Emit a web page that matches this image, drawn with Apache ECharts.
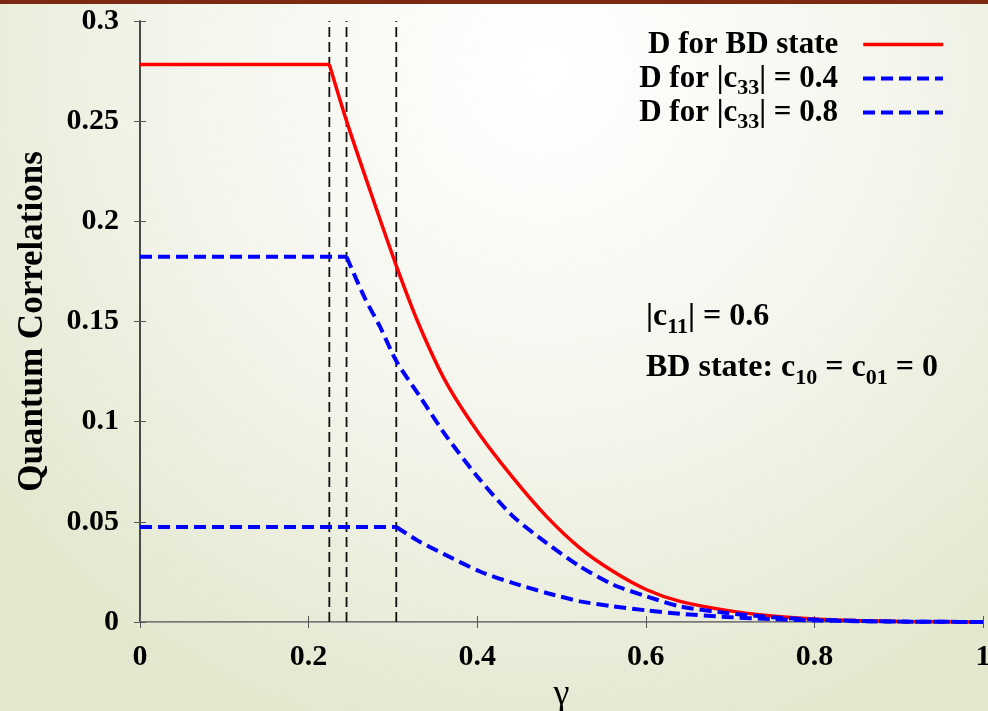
<!DOCTYPE html>
<html>
<head>
<meta charset="utf-8">
<script src="https://cdn.jsdelivr.net/npm/echarts@6/dist/echarts.min.js"></script>
<style>
  html, body { margin: 0; padding: 0; }
  #chart { width: 988px; height: 711px; }
</style>
</head>
<body>
<div id="chart"></div>
<script>
// Discord D versus damping parameter gamma
const gammaBD = [0, 0.2246, 0.2448, 0.2728, 0.3045, 0.332, 0.3638, 0.4033, 0.4428, 0.4824, 0.522, 0.5615, 0.601, 0.6406, 0.696, 0.75, 0.8, 0.85, 0.9, 0.95, 1.0];
const valuesBD = [0.2783, 0.2783, 0.2504, 0.2155, 0.1773, 0.1474, 0.1191, 0.0933, 0.0718, 0.0526, 0.0369, 0.0252, 0.0161, 0.0103, 0.0058, 0.0030, 0.0015, 0.0007, 0.0003, 0.0001, 0];

const gammaC04 = [0, 0.245, 0.2669, 0.2847, 0.3045, 0.3321, 0.3638, 0.4033, 0.4428, 0.4824, 0.522, 0.5615, 0.601, 0.6406, 0.696, 0.75, 0.8, 0.85, 0.9, 0.95, 1.0];
const valuesC04 = [0.1823, 0.1823, 0.1615, 0.1474, 0.1299, 0.1125, 0.0925, 0.0710, 0.0526, 0.0394, 0.0277, 0.0186, 0.0128, 0.0078, 0.0045, 0.0024, 0.0012, 0.0006, 0.0002, 0.0001, 0];

const gammaC08 = [0, 0.304, 0.33, 0.36, 0.4033, 0.4428, 0.4824, 0.522, 0.5615, 0.601, 0.6406, 0.696, 0.75, 0.8, 0.85, 0.9, 1.0];
const valuesC08 = [0.0474, 0.0474, 0.0405, 0.0340, 0.0252, 0.0194, 0.0145, 0.0103, 0.0078, 0.0058, 0.0041, 0.0025, 0.0014, 0.0008, 0.0004, 0.0002, 0];

// gamma values where the sudden changes occur (vertical guides)
const transitionGamma = [0.2246, 0.245, 0.304];

const xTicks = [0, 0.2, 0.4, 0.6, 0.8, 1];
const yTicks = [0, 0.05, 0.1, 0.15, 0.2, 0.25, 0.3];

const seriesNames = ['D for BD state', 'D for |c33| = 0.4', 'D for |c33| = 0.8'];
const legendTexts = ['D for BD state', 'D for |c{s|33}| = 0.4', 'D for |c{s|33}| = 0.8'];

const zip = (xs, ys) => xs.map((x, i) => [x, ys[i]]);

const SERIF = '"Liberation Serif", "DejaVu Serif", serif';
const subStyle = { fontSize: 22, fontWeight: 'bold', fontFamily: SERIF, padding: [20, 0, 0, 0] };

const xStep = xTicks[1] - xTicks[0];
const yStep = yTicks[1] - yTicks[0];
const yMin = yTicks[0], yMax = yTicks[yTicks.length - 1];

const tickStyle = { show: true, inside: true, length: 6, lineStyle: { color: '#555', width: 1 } };
const tickLabel = { show: true, fontSize: 30, fontWeight: 'bold', fontFamily: SERIF, color: '#000' };

const lineColors = ['#ff0000', '#0000ff', '#0000ff'];
const lineWidths = [3.5, 4, 4];
const lineTypes = ['solid', [12, 6], [12, 6]];
const curves = [[gammaBD, valuesBD], [gammaC04, valuesC04], [gammaC08, valuesC08]];

const chart = echarts.init(document.getElementById('chart'), null, { renderer: 'canvas' });

// dashed vertical guides at the transition points
const guideSeries = transitionGamma.map(g => ({
  type: 'line', silent: true, symbol: 'none', z: 1,
  data: [[g, yMin], [g, yMax]],
  lineStyle: { color: '#111', width: 1.8, type: [10, 5] }
}));

// each curve: a flat plateau segment, then a smooth decay starting at the kink
const curveSeries = [];
curves.forEach(([xs, ys], i) => {
  const pts = zip(xs, ys);
  const style = { color: lineColors[i], width: lineWidths[i], type: lineTypes[i] };
  curveSeries.push({
    name: seriesNames[i], type: 'line', symbol: 'none', z: 2 + i,
    data: pts.slice(0, 2), lineStyle: style, itemStyle: { color: lineColors[i] }
  });
  curveSeries.push({
    name: seriesNames[i], type: 'line', symbol: 'none', z: 2 + i,
    data: pts.slice(1), smooth: 0.25, lineStyle: style, itemStyle: { color: lineColors[i] }
  });
});

const legendTops = [29, 63, 97];
const legends = seriesNames.map((name, i) => ({
  data: [name],
  right: 43,
  top: legendTops[i],
  padding: 0,
  orient: 'vertical',
  align: 'right',
  itemWidth: 80,
  itemHeight: 14,
  selectedMode: false,
  itemStyle: { opacity: 0 },
  lineStyle: { color: lineColors[i], width: lineWidths[i], type: lineTypes[i] },
  formatter: () => legendTexts[i],
  textStyle: {
    fontSize: 31, fontWeight: 'bold', fontFamily: SERIF, color: '#000',
    padding: [0, 20, 0, 0],
    rich: { s: subStyle }
  }
}));

chart.setOption({
  animation: false,
  backgroundColor: {
    type: 'radial', x: 0.55, y: 0.1, r: 1.0,
    colorStops: [
      { offset: 0, color: '#ffffff' },
      { offset: 0.5, color: '#f4f5ec' },
      { offset: 1, color: '#e2e7cd' }
    ]
  },
  grid: { left: 140, right: 5, top: 21, bottom: 89, outerBoundsMode: 'none', containLabel: false },
  legend: legends,
  xAxis: [
    {
      type: 'value', min: xTicks[0], max: xTicks[xTicks.length - 1], interval: xStep,
      position: 'bottom',
      name: 'γ', nameLocation: 'middle', nameGap: 41,
      nameTextStyle: { fontSize: 36, fontFamily: SERIF, color: '#000' },
      axisLine: { show: true, lineStyle: { color: '#777', width: 2 } },
      axisTick: tickStyle, splitLine: { show: false },
      axisLabel: Object.assign({ margin: 20 }, tickLabel)
    },
    {
      type: 'value', min: xTicks[0], max: xTicks[xTicks.length - 1], interval: xStep,
      position: 'top',
      axisLine: { show: true, lineStyle: { color: '#999', width: 1 } },
      axisTick: tickStyle, splitLine: { show: false }, axisLabel: { show: false }
    }
  ],
  yAxis: [
    {
      type: 'value', min: yMin, max: yMax, interval: yStep,
      position: 'left',
      name: 'Quantum Correlations', nameLocation: 'middle', nameGap: 90,
      nameTextStyle: { fontSize: 35, fontWeight: 'bold', fontFamily: SERIF, color: '#000' },
      axisLine: { show: true, lineStyle: { color: '#222', width: 1.5 } },
      axisTick: tickStyle, splitLine: { show: false },
      axisLabel: Object.assign({ margin: 21 }, tickLabel)
    },
    {
      type: 'value', min: yMin, max: yMax, interval: yStep,
      position: 'right',
      axisLine: { show: true, lineStyle: { color: '#444', width: 1.5 } },
      axisTick: tickStyle, splitLine: { show: false }, axisLabel: { show: false }
    }
  ],
  series: guideSeries.concat(curveSeries),
  graphic: [
    { type: 'rect', left: 0, top: 0, shape: { width: 988, height: 4 }, style: { fill: '#7b2912' }, silent: true },
    {
      type: 'text', left: 646, top: 301, silent: true,
      style: {
        text: '|c{s|11}| = 0.6',
        font: 'bold 32px ' + SERIF, fill: '#000',
        rich: { s: subStyle }
      }
    },
    {
      type: 'text', left: 646, top: 352, silent: true,
      style: {
        text: 'BD state: c{s|10} = c{s|01} = 0',
        font: 'bold 32px ' + SERIF, fill: '#000',
        rich: { s: subStyle }
      }
    }
  ]
});
</script>
</body>
</html>
